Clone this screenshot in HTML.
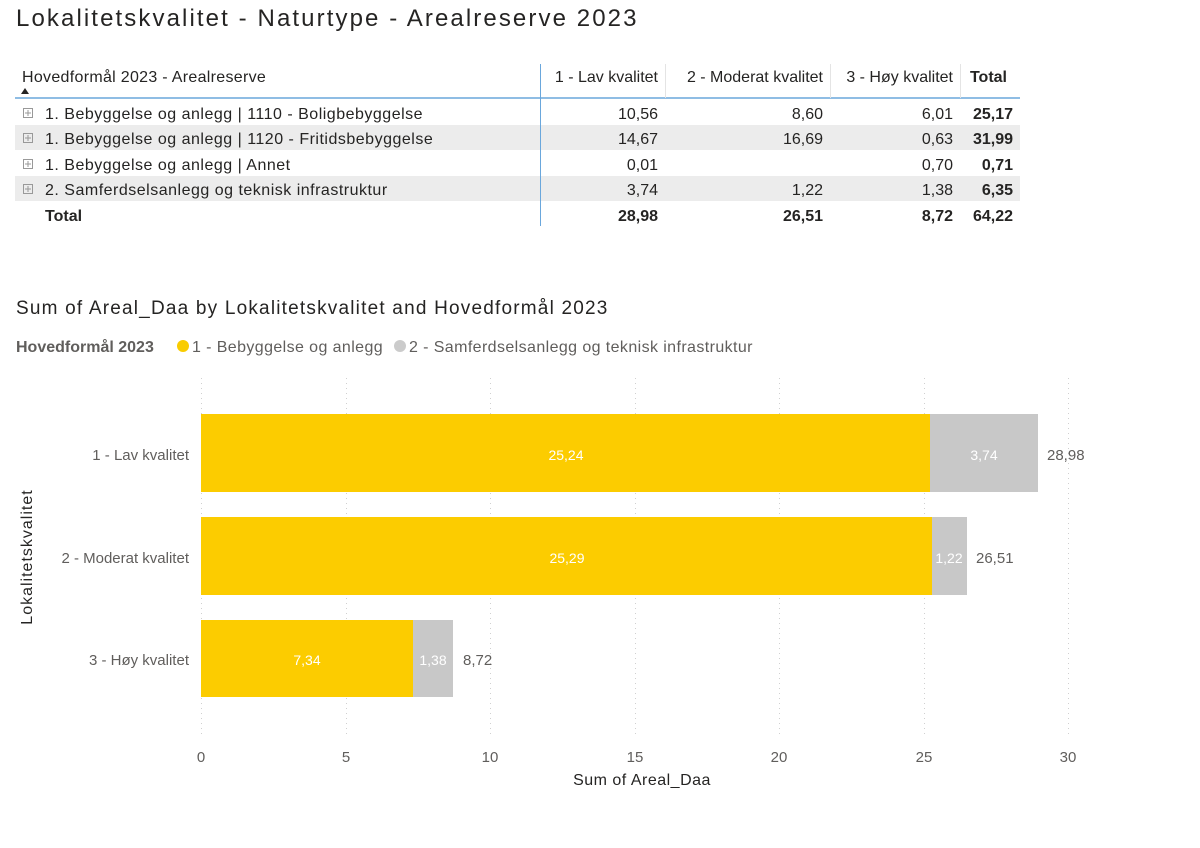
<!DOCTYPE html>
<html><head><meta charset="utf-8"><style>
html,body{margin:0;padding:0;background:#fff;}
svg{display:block;font-family:"Liberation Sans",sans-serif;}
</style></head><body>
<svg width="1200" height="848" viewBox="0 0 1200 848" xmlns="http://www.w3.org/2000/svg">
<text x="16" y="26" font-size="24" fill="#252423" letter-spacing="2.1">Lokalitetskvalitet - Naturtype - Arealreserve 2023</text>
<!-- table -->
<rect x="15" y="125" width="1005" height="25" fill="#ececec"/>
<rect x="15" y="176" width="1005" height="25" fill="#ececec"/>
<line x1="15" y1="98" x2="1020" y2="98" stroke="#6aa7dc" stroke-width="1.5"/>
<line x1="540.5" y1="64" x2="540.5" y2="226" stroke="#6aa7dc" stroke-width="1"/>
<g stroke="#e4e4e4"><line x1="665.5" y1="64" x2="665.5" y2="98"/><line x1="830.5" y1="64" x2="830.5" y2="98"/><line x1="960.5" y1="64" x2="960.5" y2="98"/></g>
<g font-size="16" fill="#252423">
<text x="22" y="82" letter-spacing="0.3">Hovedformål 2023 - Arealreserve</text>
<path d="M21 94 L25 88 L29 94 Z" fill="#252423"/>
<text x="658" y="82" text-anchor="end">1 - Lav kvalitet</text>
<text x="823" y="82" text-anchor="end">2 - Moderat kvalitet</text>
<text x="953" y="82" text-anchor="end">3 - Høy kvalitet</text>
<text x="1007" y="82" text-anchor="end" font-weight="bold">Total</text>
</g>
<g stroke="#999" fill="none" stroke-width="1">
<rect x="23.5" y="108.5" width="9" height="9"/><rect x="23.5" y="133.5" width="9" height="9"/><rect x="23.5" y="159.5" width="9" height="9"/><rect x="23.5" y="184.5" width="9" height="9"/>
<path d="M25 113h6M28 110v6M25 138h6M28 135v6M25 164h6M28 161v6M25 189h6M28 186v6"/>
</g>
<g font-size="16" fill="#252423">
<g letter-spacing="0.5">
<text x="45" y="119">1. Bebyggelse og anlegg | 1110 - Boligbebyggelse</text>
<text x="45" y="144">1. Bebyggelse og anlegg | 1120 - Fritidsbebyggelse</text>
<text x="45" y="170">1. Bebyggelse og anlegg | Annet</text>
<text x="45" y="195">2. Samferdselsanlegg og teknisk infrastruktur</text>
</g>
<text x="45" y="221" font-weight="bold">Total</text>
<g text-anchor="end">
<text x="658" y="119">10,56</text><text x="823" y="119">8,60</text><text x="953" y="119">6,01</text><text x="1013" y="119" font-weight="bold">25,17</text>
<text x="658" y="144">14,67</text><text x="823" y="144">16,69</text><text x="953" y="144">0,63</text><text x="1013" y="144" font-weight="bold">31,99</text>
<text x="658" y="170">0,01</text><text x="953" y="170">0,70</text><text x="1013" y="170" font-weight="bold">0,71</text>
<text x="658" y="195">3,74</text><text x="823" y="195">1,22</text><text x="953" y="195">1,38</text><text x="1013" y="195" font-weight="bold">6,35</text>
<g font-weight="bold"><text x="658" y="221">28,98</text><text x="823" y="221">26,51</text><text x="953" y="221">8,72</text><text x="1013" y="221">64,22</text></g>
</g></g>
<!-- chart -->
<text x="16" y="314" font-size="19" fill="#252423" letter-spacing="1.2">Sum of Areal_Daa by Lokalitetskvalitet and Hovedformål 2023</text>
<text x="16" y="352" font-size="16" fill="#605e5c" font-weight="bold">Hovedformål 2023</text>
<circle cx="183" cy="346" r="6" fill="#f9cc00"/>
<text x="192" y="352" font-size="16" fill="#605e5c" letter-spacing="0.4">1 - Bebyggelse og anlegg</text>
<circle cx="400" cy="346" r="6" fill="#cbcbcb"/>
<text x="409" y="352" font-size="16" fill="#605e5c" letter-spacing="0.4">2 - Samferdselsanlegg og teknisk infrastruktur</text>
<g stroke="#d0d0d0" stroke-dasharray="1,4" stroke-width="1">
<line x1="201.5" y1="378" x2="201.5" y2="735"/><line x1="346.5" y1="378" x2="346.5" y2="735"/><line x1="490.5" y1="378" x2="490.5" y2="735"/><line x1="635.5" y1="378" x2="635.5" y2="735"/><line x1="779.5" y1="378" x2="779.5" y2="735"/><line x1="924.5" y1="378" x2="924.5" y2="735"/><line x1="1068.5" y1="378" x2="1068.5" y2="735"/>
</g>
<rect x="201" y="414" width="729" height="78" fill="#fccc00"/>
<rect x="930" y="414" width="108" height="78" fill="#c8c8c8"/>
<rect x="201" y="517" width="731" height="78" fill="#fccc00"/>
<rect x="932" y="517" width="35" height="78" fill="#c8c8c8"/>
<rect x="201" y="620" width="212" height="77" fill="#fccc00"/>
<rect x="413" y="620" width="40" height="77" fill="#c8c8c8"/>
<g font-size="14" fill="#fff" text-anchor="middle">
<text x="566" y="460">25,24</text><text x="984" y="460">3,74</text>
<text x="567" y="563">25,29</text><text x="949" y="563">1,22</text>
<text x="307" y="665">7,34</text><text x="433" y="665">1,38</text>
</g>
<g font-size="15" fill="#605e5c">
<text x="1047" y="460">28,98</text><text x="976" y="563">26,51</text><text x="463" y="665">8,72</text>
<g text-anchor="end"><text x="189" y="460">1 - Lav kvalitet</text><text x="189" y="563">2 - Moderat kvalitet</text><text x="189" y="665">3 - Høy kvalitet</text></g>
<g text-anchor="middle"><text x="201" y="762">0</text><text x="346" y="762">5</text><text x="490" y="762">10</text><text x="635" y="762">15</text><text x="779" y="762">20</text><text x="924" y="762">25</text><text x="1068" y="762">30</text></g>
</g>
<text x="642" y="785" font-size="16" fill="#252423" text-anchor="middle" letter-spacing="0.5">Sum of Areal_Daa</text>
<text transform="translate(32,557) rotate(-90)" font-size="16" fill="#252423" text-anchor="middle" letter-spacing="1">Lokalitetskvalitet</text>
</svg>
</body></html>
